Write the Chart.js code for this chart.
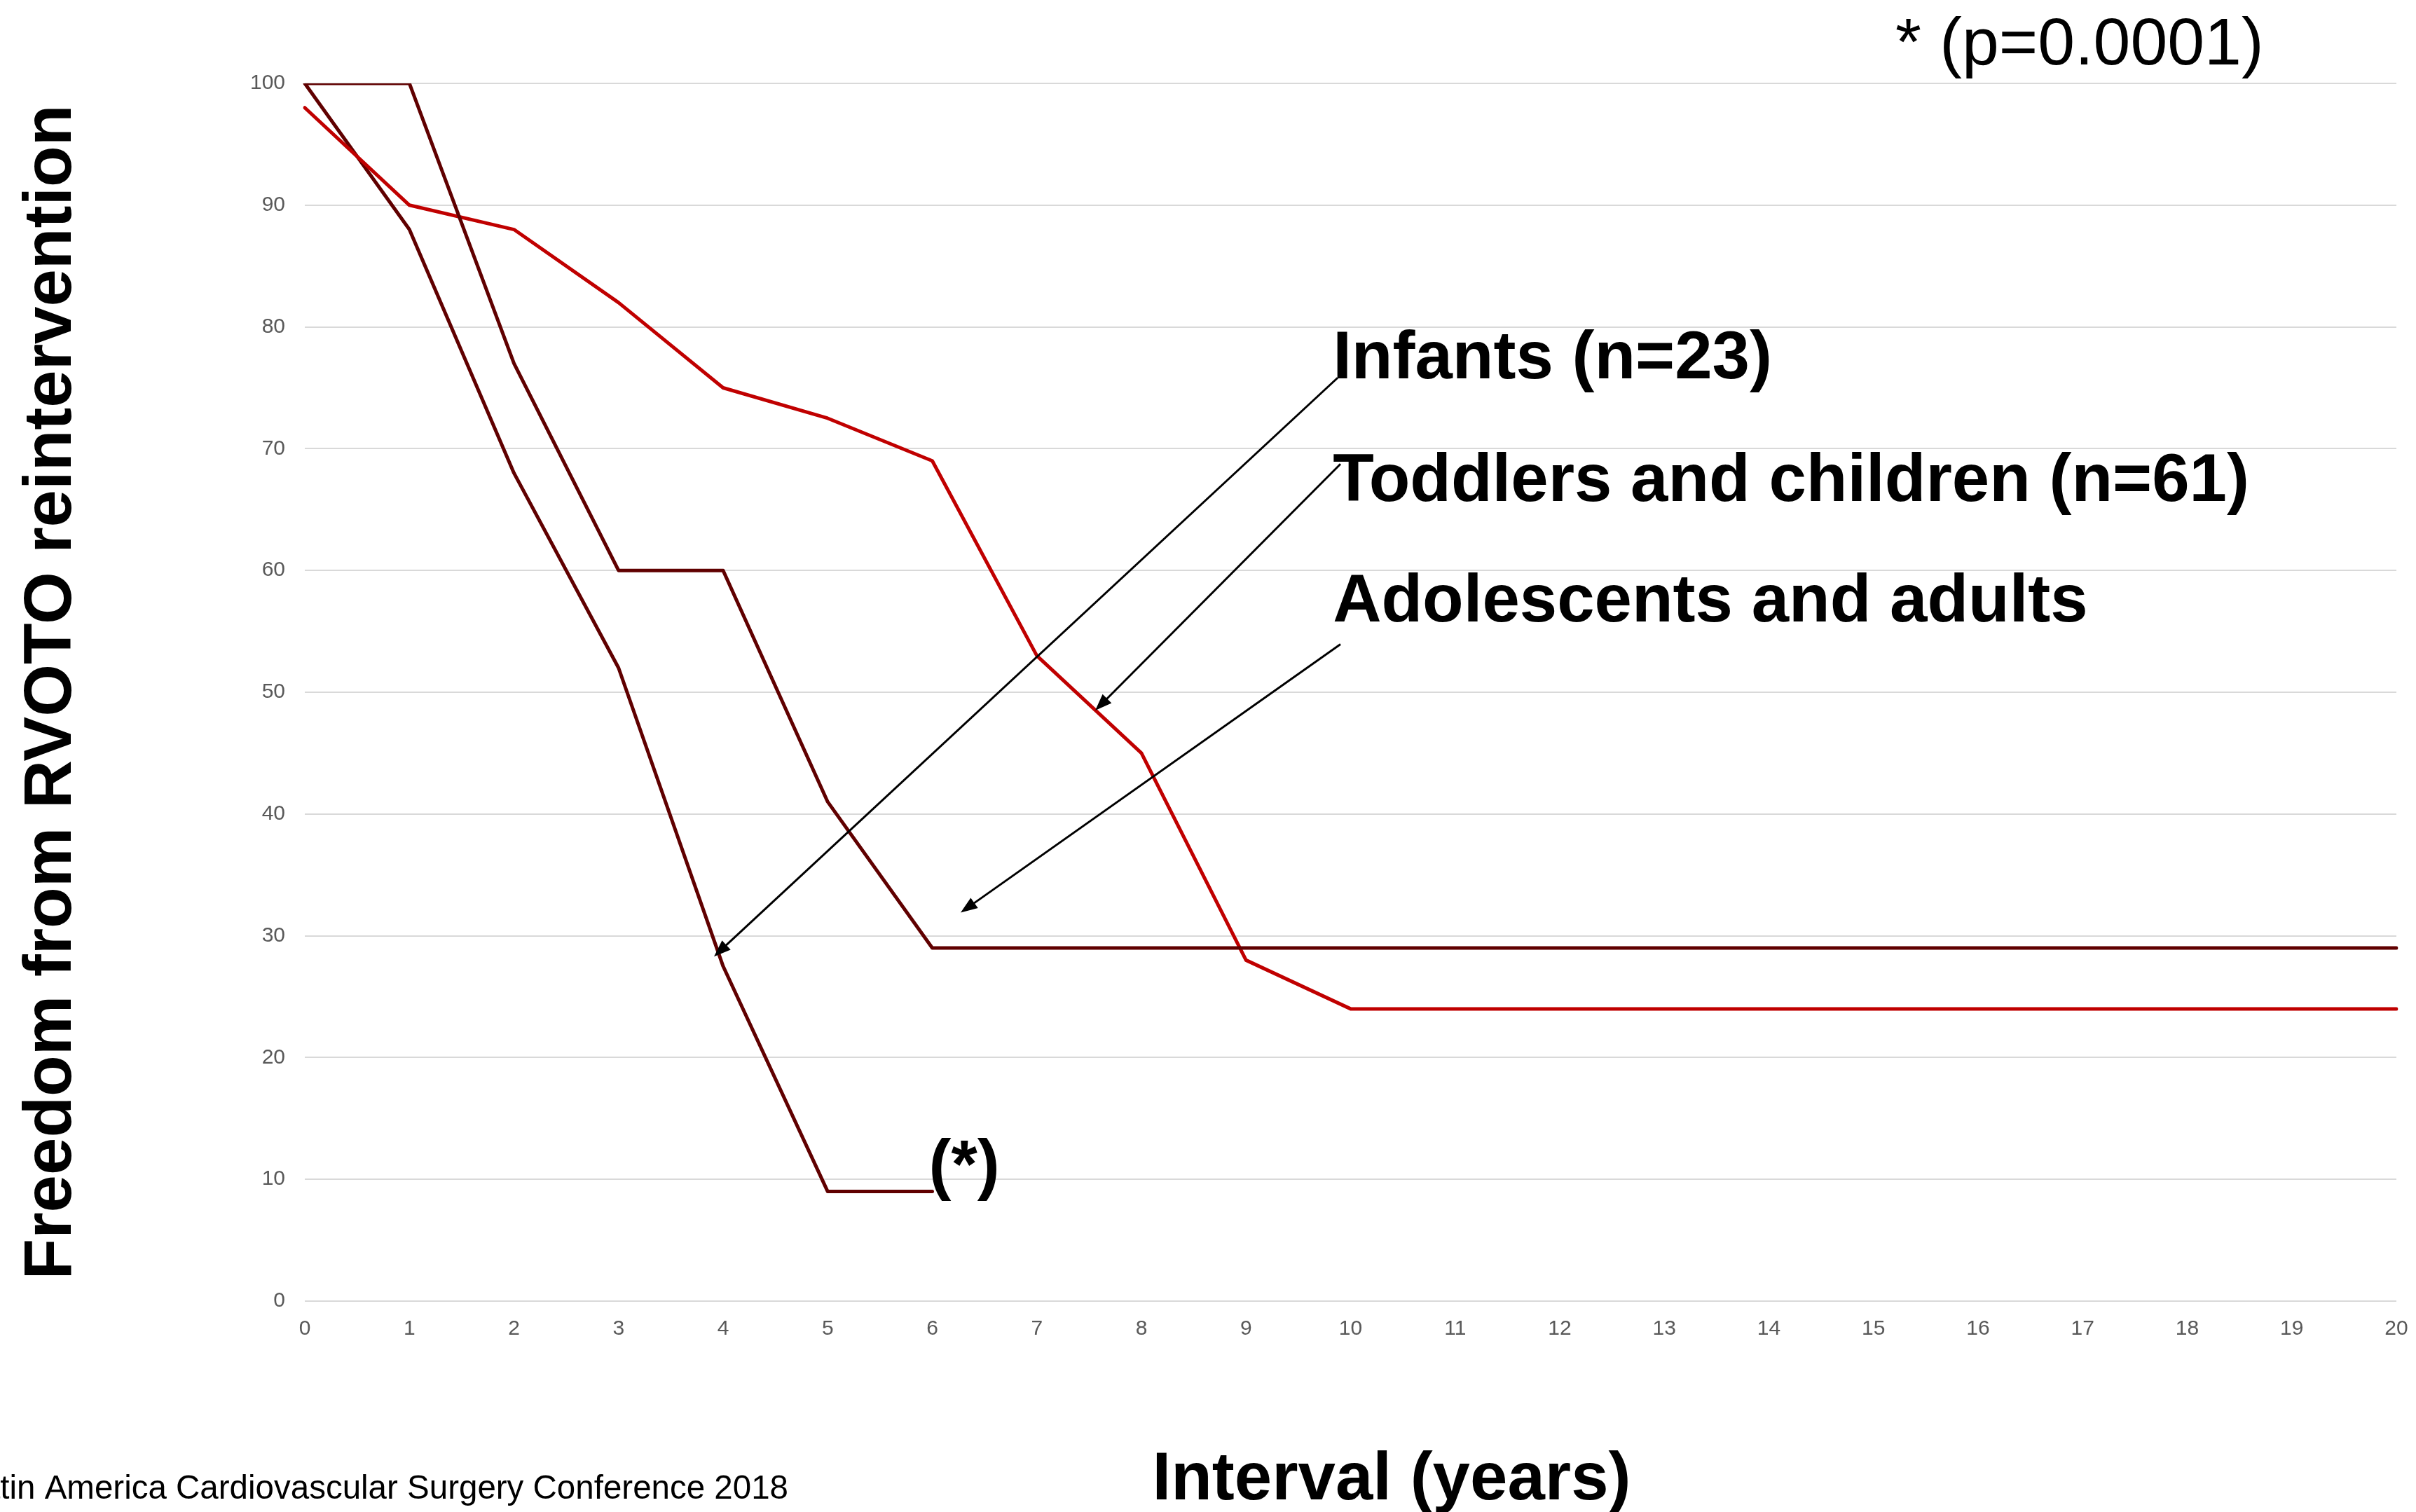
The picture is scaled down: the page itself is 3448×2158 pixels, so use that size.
<!DOCTYPE html>
<html>
<head>
<meta charset="utf-8">
<title>Freedom from RVOTO reintervention</title>
<script src="https://cdn.jsdelivr.net/npm/chart.js@4/dist/chart.umd.min.js"></script>
<style>
  html, body { margin: 0; padding: 0; background: #ffffff; overflow: hidden; }
  #wrap { width: 3448px; height: 2158px; position: relative; }
</style>
</head>
<body>
<div id="wrap"><canvas id="c" width="3448" height="2158"></canvas></div>
<script>
// Follow-up interval, years
const years = ['0','1','2','3','4','5','6','7','8','9','10','11','12','13','14','15','16','17','18','19','20'];

// Freedom from RVOTO reintervention (%) per age group
const infants = [100, 88, 68, 52, 27.5, 9, 9];
const toddlersChildren = [98, 90, 88, 82, 75, 72.5, 69, 53, 45, 28, 24, 24, 24, 24, 24, 24, 24, 24, 24, 24, 24];
const adolescentsAdults = [100, 100, 77, 60, 60, 41, 29, 29, 29, 29, 29, 29, 29, 29, 29, 29, 29, 29, 29, 29, 29];

const groupNames = ['Infants (n=23)', 'Toddlers and children (n=61)', 'Adolescents and adults'];
const significanceNote = '* (p=0.0001)';
const significanceMark = '(*)';
const xTitle = 'Interval (years)';
const yTitle = 'Freedom from RVOTO reintervention';
const footer = 'Latin America Cardiovascular Surgery Conference 2018';

const FONT = '"Liberation Sans", Arial, Helvetica, sans-serif';
const DARK = '#600000';
const RED = '#c00000';

// Callout labels: text anchor and arrow (tail -> head), in axis units (year, %)
const callouts = [
  { text: groupNames[0], at: [9.83, 75.76], from: [9.876, 75.82], to: [3.913, 28.3] },
  { text: groupNames[1], at: [9.83, 65.69], from: [9.903, 68.74], to: [7.558, 48.5] },
  { text: groupNames[2], at: [9.83, 55.79], from: [9.903, 53.94], to: [6.271, 31.9] }
];

function drawArrow(ctx, x0, y0, x1, y1) {
  const ang = Math.atan2(y1 - y0, x1 - x0);
  const headLen = 24, headHalf = 9;
  const bx = x1 - headLen * Math.cos(ang), by = y1 - headLen * Math.sin(ang);
  ctx.strokeStyle = '#000';
  ctx.lineWidth = 3;
  ctx.beginPath();
  ctx.moveTo(x0, y0);
  ctx.lineTo(bx + 2 * Math.cos(ang), by + 2 * Math.sin(ang));
  ctx.stroke();
  ctx.fillStyle = '#000';
  ctx.beginPath();
  ctx.moveTo(x1, y1);
  ctx.lineTo(bx + headHalf * Math.sin(ang), by - headHalf * Math.cos(ang));
  ctx.lineTo(bx - headHalf * Math.sin(ang), by + headHalf * Math.cos(ang));
  ctx.closePath();
  ctx.fill();
}

const notesPlugin = {
  id: 'notes',
  afterDatasetsDraw(chart) {
    const { ctx, scales: { x, y } } = chart;
    ctx.save();
    ctx.textAlign = 'left';
    ctx.textBaseline = 'alphabetic';
    ctx.fillStyle = '#000';

    // group callouts
    ctx.font = 'bold 96px ' + FONT;
    callouts.forEach(c => {
      ctx.fillStyle = '#000';
      ctx.fillText(c.text, x.getPixelForValue(c.at[0]), y.getPixelForValue(c.at[1]));
      drawArrow(ctx,
        x.getPixelForValue(c.from[0]), y.getPixelForValue(c.from[1]),
        x.getPixelForValue(c.to[0]), y.getPixelForValue(c.to[1]));
    });

    // significance marker at the end of the infants curve
    const infMeta = chart.getDatasetMeta(2);
    const last = infMeta.data[infMeta.data.length - 1];
    ctx.fillStyle = '#000';
    ctx.font = 'bold 96px ' + FONT;
    ctx.fillText(significanceMark, last.x - 5, last.y - 7);

    // p-value note, top right
    ctx.font = '95px ' + FONT;
    ctx.fillText(significanceNote, 2705, 92);

    // x-axis title
    ctx.font = 'bold 96px ' + FONT;
    ctx.textAlign = 'center';
    ctx.fillText(xTitle, 1986, 2140);

    // source line, bottom left
    ctx.font = '47.5px ' + FONT;
    ctx.textAlign = 'right';
    ctx.fillText(footer, 1125, 2139);
    ctx.restore();
  }
};

new Chart(document.getElementById('c'), {
  type: 'line',
  data: {
    labels: years,
    datasets: [
      { label: groupNames[2], data: adolescentsAdults, borderColor: DARK },
      { label: groupNames[1], data: toddlersChildren, borderColor: RED },
      { label: groupNames[0], data: infants, borderColor: DARK }
    ].map(d => Object.assign(d, {
      borderWidth: 5,
      pointRadius: 0,
      tension: 0,
      fill: false,
      borderCapStyle: 'round',
      borderJoinStyle: 'round'
    }))
  },
  options: {
    responsive: false,
    animation: false,
    devicePixelRatio: 1,
    layout: { padding: { top: 119, right: 28, left: 0, bottom: 201 } },
    plugins: { legend: { display: false }, tooltip: { enabled: false } },
    scales: {
      x: {
        type: 'category',
        offset: false,
        grid: { display: false, drawTicks: false },
        border: { display: false },
        ticks: { color: '#595959', font: { family: FONT, size: 30 }, padding: 22, maxRotation: 0, autoSkip: false },
        afterFit(scale) {
          scale.height = 100;
          scale.paddingLeft = 0;
          scale.paddingRight = 0;
        }
      },
      y: {
        min: 0,
        max: 100,
        grid: { color: '#d9d9d9', lineWidth: 2, drawTicks: false },
        border: { display: false },
        ticks: { stepSize: 10, color: '#595959', font: { family: FONT, size: 30 }, padding: 28 },
        title: {
          display: true,
          text: yTitle,
          color: '#000',
          font: { family: FONT, size: 96, weight: 'bold' },
          padding: { top: 17, bottom: 0 }
        },
        afterFit(scale) { scale.width = 435; }
      }
    }
  },
  plugins: [notesPlugin]
});
</script>
</body>
</html>
